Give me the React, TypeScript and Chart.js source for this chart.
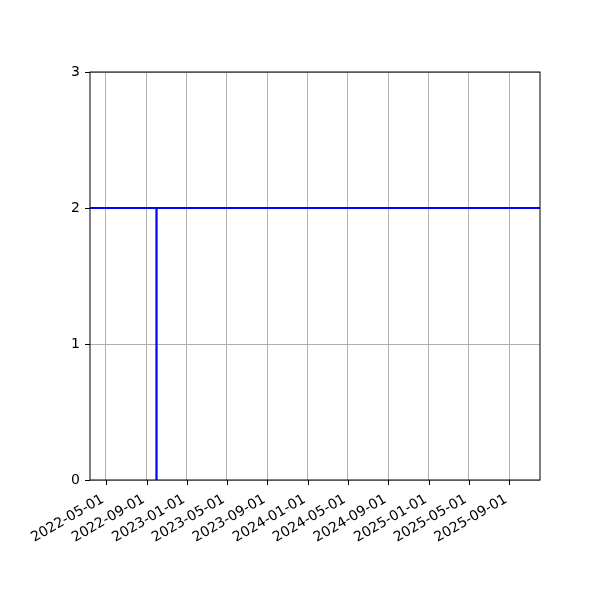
import { useEffect, useRef } from "react";
import { Chart, registerables } from "chart.js";

Chart.register(...registerables);

// x range of the axes (matplotlib margins included)
const axisStart = "2022-03-14";
const axisEnd = "2025-12-03";

// horizontal level line at 2
const levelDates = ["2022-03-14", "2025-12-03"];
const levelValues = [2, 2];

// vertical drop from 2 to 0
const dropDates = ["2022-10-01", "2022-10-01"];
const dropValues = [0, 2];

const tickDates = [
  "2022-05-01", "2022-09-01", "2023-01-01", "2023-05-01", "2023-09-01",
  "2024-01-01", "2024-05-01", "2024-09-01", "2025-01-01", "2025-05-01", "2025-09-01",
];
const yTicks = [0, 1, 2, 3];

const toMs = (d: string) => {
  const [y, m, day] = d.split("-").map(Number);
  return Date.UTC(y, m - 1, day);
};

const fmt = (v: number) => {
  const d = new Date(v);
  const mm = String(d.getUTCMonth() + 1).padStart(2, "0");
  const dd = String(d.getUTCDate()).padStart(2, "0");
  return `${d.getUTCFullYear()}-${mm}-${dd}`;
};

// frame + black outward tick marks, drawn over everything
const framePlugin = {
  id: "mpl-frame",
  afterDraw: (c: Chart) => {
    const { ctx, chartArea, scales } = c;
    const { left, right, top, bottom } = chartArea;
    ctx.save();
    ctx.strokeStyle = "#000";
    ctx.lineWidth = 1;
    ctx.strokeRect(left, top, right - left, bottom - top);
    ctx.beginPath();
    for (const d of tickDates) {
      const x = Math.round(scales.x.getPixelForValue(toMs(d))) + 0.5;
      ctx.moveTo(x, bottom);
      ctx.lineTo(x, bottom + 5);
    }
    for (const v of yTicks) {
      const y = Math.round(scales.y.getPixelForValue(v)) + 0.5;
      ctx.moveTo(left, y);
      ctx.lineTo(left - 5, y);
    }
    ctx.stroke();
    ctx.restore();
  },
};

export default function App() {
  const ref = useRef<HTMLCanvasElement | null>(null);

  useEffect(() => {
    document.body.style.margin = "0";
    if (!ref.current) return;

    const toPts = (xs: string[], ys: number[]) => xs.map((d, i) => ({ x: toMs(d), y: ys[i] }));

    const chart = new Chart(ref.current, {
      type: "line",
      data: {
        datasets: [
          {
            data: toPts(levelDates, levelValues),
            borderColor: "#0000ff",
            borderWidth: 2,
            pointRadius: 0,
            fill: false,
          },
          {
            data: toPts(dropDates, dropValues),
            borderColor: "#0000ff",
            borderWidth: 2.2,
            pointRadius: 0,
            fill: false,
          },
        ],
      },
      options: {
        animation: false,
        responsive: false,
        layout: { padding: { top: 72, right: 60, left: 0, bottom: 0 } },
        plugins: { legend: { display: false }, tooltip: { enabled: false } },
        scales: {
          x: {
            type: "linear",
            min: toMs(axisStart),
            max: toMs(axisEnd),
            afterBuildTicks: (s: any) => {
              s.ticks = tickDates.map((d) => ({ value: toMs(d) }));
            },
            afterFit: (s: any) => {
              s.height = 120;
            },
            grid: { color: "#b0b0b0", drawTicks: false, lineWidth: 1 },
            border: { display: false },
            ticks: {
              callback: (v: any) => fmt(Number(v)),
              minRotation: 30,
              maxRotation: 30,
              padding: 11,
              labelOffset: -3,
              color: "#000",
              font: { family: "DejaVu Sans", size: 14 },
            },
          },
          y: {
            min: 0,
            max: 3,
            afterBuildTicks: (s: any) => {
              s.ticks = yTicks.map((v) => ({ value: v }));
            },
            afterFit: (s: any) => {
              s.width = 90;
            },
            grid: { color: "#b0b0b0", drawTicks: false, lineWidth: 1 },
            border: { display: false },
            ticks: {
              padding: 10,
              color: "#000",
              font: { family: "DejaVu Sans", size: 14 },
            },
          },
        },
      },
      plugins: [framePlugin],
    });

    return () => chart.destroy();
  }, []);

  return (
    <div style={{ width: 600, height: 600 }}>
      <canvas ref={ref} width={600} height={600} style={{ width: 600, height: 600 }} />
    </div>
  );
}
